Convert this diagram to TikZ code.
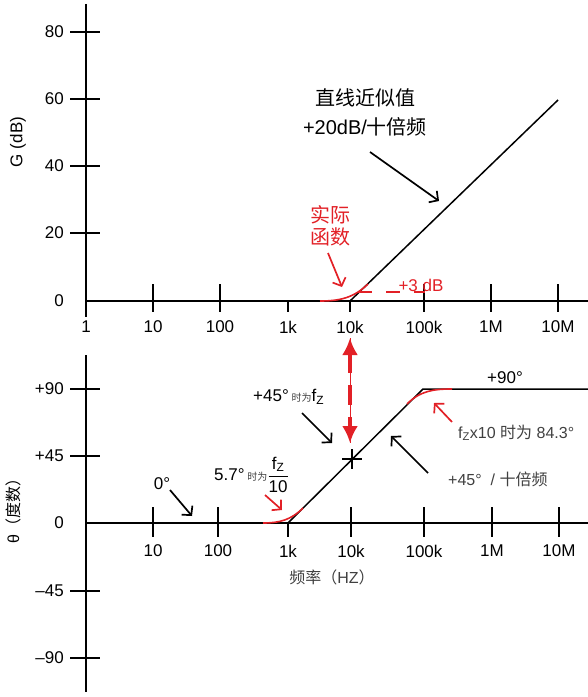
\documentclass[tikz,border=0pt]{standalone}
\usepackage{amsmath}
\usepackage{fontspec}
\setmainfont{Liberation Sans}
\newfontfamily\cjk{Noto Sans CJK SC}
\usetikzlibrary{arrows.meta}

\definecolor{realred}{RGB}{226,32,38}
\definecolor{notegray}{RGB}{64,64,64}
\newcommand{\fsubz}{f\textsubscript{Z}}

\tikzset{
  axis/.style={line width=1.6bp},
  asym/.style={line width=1.5bp},
  realfn/.style={realred, line width=1.6bp},
  note/.style={->, line width=1.7bp},
  lbl/.style={font=\fontsize{17bp}{19bp}\selectfont, inner sep=0pt},
  biglbl/.style={font=\fontsize{20bp}{22bp}\selectfont, inner sep=0pt},
  smalllbl/.style={font=\fontsize{16bp}{18bp}\selectfont, inner sep=0pt, text=notegray},
  tinylbl/.style={font=\fontsize{10bp}{11bp}\selectfont\cjk, inner sep=0pt, text=notegray},
}

\begin{document}
\begin{tikzpicture}[x=1bp, y=-1bp, >={Straight Barb[length=6.5bp,width=14bp]}]
    \useasboundingbox (0,0) rectangle (588,697);

    % gain plot
    \draw[axis] (86,4) -- (86,317);
    \draw[axis] (86,301) -- (588,301);
    \foreach \y in {32,99,166,233}
      \draw[axis] (70,\y) -- (100,\y);
    \foreach \y/\v in {32/80,99/60,166/40,233/20,301/0}
      \node[lbl, anchor=east] (g\v) at (64,\y) {\v};
    \foreach \x in {153,220,424,491,558}
      \draw[axis] (\x,284) -- (\x,312);
    \foreach \x in {288,350}
      \draw[axis] (\x,301) -- (\x,312);
    \foreach \x/\t in {86/1,153/10,220/100,288/1k,350/10k,424/100k,491/1M,558/10M}
      \node[lbl] (gx\t) at (\x,327) {\t};
    \node[lbl, rotate=90] (gname) at (18,142) {G (dB)};

    \coordinate (gcorner) at (350,301);
    \coordinate (gend) at (558,100);
    \draw[asym] (gcorner) -- (gend);
    \draw[realfn] (320,301) to[out=0, in=224] (368,284);
    \draw[realred, line width=1.8bp, dash pattern=on 14bp off 14bp] (358,292) -- (425,292);
    \node[lbl, text=realred] (plus3) at (421,285) {+3 dB};

    \node[biglbl] (approx) at (365,98) {\cjk 直线近似值};
    \node[biglbl] (slope) at (365,127) {+20dB/{\cjk 十倍频}};
    \coordinate (approxa) at (370,152);
    \coordinate (approxb) at (439,201);
    \draw[note] (approxa) -- (approxb);

    \node[biglbl, text=realred] (real1) at (330,215) {\cjk 实际};
    \node[biglbl, text=realred] (real2) at (330,237) {\cjk 函数};
    \coordinate (reala) at (328,253);
    \coordinate (realb) at (342,287);
    \draw[note, realred] (reala) -- (realb);

    % phase plot
    \draw[axis] (86,355) -- (86,692);
    \draw[axis] (86,523) -- (588,523);
    \foreach \y in {389,456,591,658}
      \draw[axis] (70,\y) -- (100,\y);
    \foreach \y/\v in {389/+90,456/+45,523/0,591/--45,658/--90}
      \node[lbl, anchor=east] (p\y) at (64,\y) {\v};
    \foreach \x in {153,218,351,424,492,559}
      \draw[axis] (\x,507) -- (\x,537);
    \draw[axis] (288,523) -- (288,537);
    \foreach \x/\t in {153/10,218/100,288/1k,351/10k,424/100k,492/1M,559/10M}
      \node[lbl] (px\t) at (\x,551) {\t};
    \node[smalllbl] (freq) at (332,577) {{\cjk 频率（}HZ{\cjk ）}};
    \node[smalllbl, rotate=90, text=black] (pname) at (13,507) {θ{\cjk （度数）}};

    \coordinate (pstart) at (288,523);
    \coordinate (pknee) at (423,389);
    \coordinate (pend) at (588,389);
    \draw[asym] (pstart) -- (pknee) -- (pend);
    \draw[line width=1.3bp] (342,459) -- (362,459);
    \draw[line width=1.3bp] (352,449) -- (352,469);
    \draw[realfn] (263,523) to[out=0, in=225] (303,508);
    \draw[realfn] (407,404) to[out=45, in=180] (452,389);

    \coordinate (magtip) at (350,338);
    \coordinate (phasetip) at (350,443);
    \draw[realred, line width=0.6bp] (magtip) -- (phasetip);
    \draw[realred, line width=4bp, dash pattern=on 20bp off 12bp,
          {Latex[length=17bp,width=16bp]}-{Latex[length=17bp,width=16bp]}] (magtip) -- (phasetip);

    \node[lbl] (p90) at (505,378) {+90°};
    \node[smalllbl, anchor=west] (p843) at (458,433) {\fsubz x10 {\cjk 时为} 84.3°};
    \coordinate (p843a) at (452,422);
    \coordinate (p843b) at (434,403);
    \draw[note, realred] (p843a) -- (p843b);

    \node[smalllbl, anchor=west] (pslope) at (448,479) {+45°\ \ / {\cjk 十倍频}};
    \coordinate (pslopea) at (428,473);
    \coordinate (pslopeb) at (391,436);
    \draw[note] (pslopea) -- (pslopeb);

    \node[lbl, anchor=west] (p45) at (253,397) {+45°\,\tikz[baseline]\node[tinylbl,anchor=base]{时为};f\textsubscript{Z}};
    \coordinate (p45a) at (302,413);
    \coordinate (p45b) at (332,443);
    \draw[note] (p45a) -- (p45b);

    \node[lbl, anchor=west] (p57) at (214,475) {5.7°\,\tikz[baseline]\node[tinylbl,anchor=base]{时为};$\dfrac{\text{\fsubz}}{\text{10}}$};
    \coordinate (p57a) at (265,495);
    \coordinate (p57b) at (282,510);
    \draw[note, realred] (p57a) -- (p57b);

    \node[lbl] (p0) at (162,484) {0°};
    \coordinate (p0a) at (170,490);
    \coordinate (p0b) at (192,516);
    \draw[note] (p0a) -- (p0b);
\end{tikzpicture}
\end{document}
